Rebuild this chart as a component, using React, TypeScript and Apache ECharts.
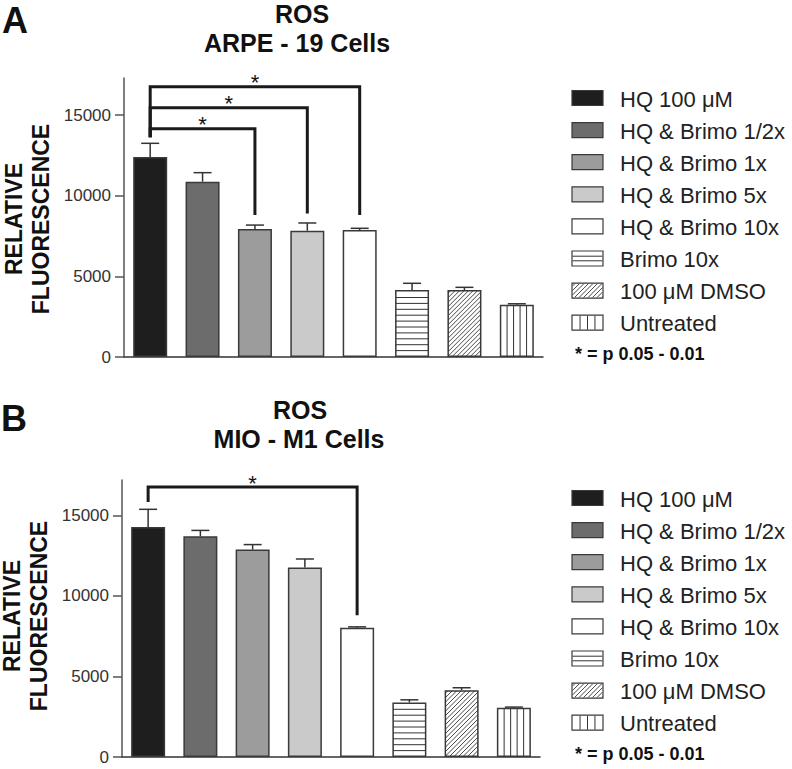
import React, { useEffect, useRef } from "react";
import * as echarts from "echarts";

// ---------- data ----------
const categories = [
  "HQ 100 μM",
  "HQ & Brimo 1/2x",
  "HQ & Brimo 1x",
  "HQ & Brimo 5x",
  "HQ & Brimo 10x",
  "Brimo 10x",
  "100 μM DMSO",
  "Untreated",
];
const arpeMeans = [12400, 10870, 7930, 7830, 7870, 4150, 4150, 3240];
const arpeErrors = [850, 560, 250, 480, 110, 420, 170, 60];
const mioMeans = [14280, 13700, 12880, 11760, 8020, 3390, 4150, 3060];
const mioErrors = [1100, 370, 310, 535, 60, 160, 150, 40];
// [fromIndex, toIndex, bracketY, leftBottomY, rightBottomY]
const arpeBrackets = [
  [0, 4, 16750, 13620, 8800],
  [0, 3, 15450, 13620, 8900],
  [0, 2, 14150, 13620, 8800],
];
const mioBrackets = [[0, 4, 16760, 15830, 8800]];
const yTickValues = [0, 5000, 10000, 15000];
const titlesA = ["ROS", "ARPE - 19 Cells"];
const titlesB = ["ROS", "MIO - M1 Cells"];
const yAxisTitle = "RELATIVE\nFLUORESCENCE";
const sigNote = "* = p 0.05 - 0.01";

// ---------- styles ----------
const FONT = "'Liberation Sans', Arial, Helvetica, sans-serif";
const fills = ["#1e1e1e", "#6c6c6c", "#9c9c9c", "#cacaca", "#ffffff", "#ffffff", "#ffffff", "#ffffff"];
const patterns = ["", "", "", "", "", "h", "d", "v"];
const BORDER = "#3a3a3a";
const HALF_BAR = 17;

function patternLines(kind: string, x0: number, x1: number, yT: number, yB: number, opts: any) {
  const out: any[] = [];
  const style = { stroke: "#333", lineWidth: 1 };
  if (kind === "h") {
    if (opts.legend) {
      for (let k = 1; k < 3; k++) {
        const y = yT + (k * (yB - yT)) / 3;
        out.push({ type: "line", shape: { x1: x0, y1: y, x2: x1, y2: y }, style });
      }
    } else {
      for (let y = yB - 5.9; y > yT + 1.5; y -= 5.9) {
        out.push({ type: "line", shape: { x1: x0, y1: y, x2: x1, y2: y }, style });
      }
    }
  } else if (kind === "v") {
    const n = opts.legend ? 4 : 5;
    for (let k = 1; k < n; k++) {
      const x = x0 + (k * (x1 - x0)) / n;
      out.push({ type: "line", shape: { x1: x, y1: yT, x2: x, y2: yB }, style });
    }
  } else if (kind === "d") {
    const s = 4.5;
    const h = yB - yT;
    for (let c = x0 - h + s / 2; c < x1; c += s) {
      const t0 = Math.max(0, x0 - c);
      const t1 = Math.min(h, x1 - c);
      if (t1 > t0) {
        out.push({
          type: "line",
          shape: { x1: c + t0, y1: yB - t0, x2: c + t1, y2: yB - t1 },
          style: { stroke: "#333", lineWidth: 0.9 },
        });
      }
    }
  }
  return out;
}

function barSeries(means: number[], idx: number) {
  return {
    type: "bar",
    xAxisIndex: idx,
    yAxisIndex: idx,
    barWidth: HALF_BAR * 2,
    z: 2,
    data: means.map((v, i) => ({
      value: v,
      itemStyle: { color: fills[i], borderColor: BORDER, borderWidth: 1.5 },
    })),
  };
}

function patternSeries(means: number[], idx: number) {
  return {
    type: "custom",
    xAxisIndex: idx,
    yAxisIndex: idx,
    z: 3,
    silent: true,
    data: means.map((v, i) => [i, v]),
    renderItem: (params: any, api: any) => {
      const i = api.value(0);
      const v = api.value(1);
      const top = api.coord([i, v]);
      const bot = api.coord([i, 0]);
      const children = patternLines(
        patterns[i],
        top[0] - HALF_BAR + 0.75,
        top[0] + HALF_BAR - 0.75,
        top[1] + 0.75,
        bot[1] - 0.5,
        {}
      );
      return { type: "group", children };
    },
  };
}

function errorSeries(means: number[], errs: number[], idx: number) {
  return {
    type: "custom",
    xAxisIndex: idx,
    yAxisIndex: idx,
    z: 4,
    silent: true,
    data: means.map((v, i) => [i, v, errs[i]]),
    renderItem: (params: any, api: any) => {
      const i = api.value(0);
      const m = api.value(1);
      const e = api.value(2);
      const base = api.coord([i, m]);
      const top = api.coord([i, m + e]);
      const style = { stroke: "#333", lineWidth: 1.5 };
      return {
        type: "group",
        children: [
          { type: "line", shape: { x1: base[0], y1: base[1], x2: top[0], y2: top[1] }, style },
          { type: "line", shape: { x1: top[0] - 9, y1: top[1], x2: top[0] + 9, y2: top[1] }, style },
        ],
      };
    },
  };
}

function bracketSeries(brackets: number[][], idx: number) {
  return {
    type: "custom",
    xAxisIndex: idx,
    yAxisIndex: idx,
    z: 5,
    silent: true,
    clip: false,
    data: brackets,
    renderItem: (params: any, api: any) => {
      const a = api.value(0);
      const b = api.value(1);
      const y = api.value(2);
      const lb = api.value(3);
      const rb = api.value(4);
      const p1 = api.coord([a, lb]);
      const p2 = api.coord([a, y]);
      const p3 = api.coord([b, y]);
      const p4 = api.coord([b, rb]);
      return {
        type: "group",
        children: [
          {
            type: "polyline",
            shape: { points: [p1, p2, p3, p4] },
            style: { stroke: "#1a1a1a", lineWidth: 3, fill: null, lineJoin: "miter" },
          },
          {
            type: "text",
            x: (p2[0] + p3[0]) / 2,
            y: p2[1] - 4,
            style: {
              text: "*",
              fontSize: 22,
              fontFamily: FONT,
              fill: "#111",
              align: "center",
              verticalAlign: "middle",
              textAlign: "center",
              textVerticalAlign: "middle",
            },
          },
        ],
      };
    },
  };
}

function textEl(text: string, x: number, y: number, size: number, bold: boolean, align = "center", extra: any = {}) {
  return {
    type: "text",
    x,
    y,
    silent: true,
    ...extra,
    style: {
      text,
      fontSize: size,
      fontFamily: FONT,
      fontWeight: bold ? "bold" : "normal",
      fill: "#111",
      align,
      verticalAlign: "middle",
      textAlign: align,
      textVerticalAlign: "middle",
      ...(extra.style || {}),
    },
  };
}

function legendEls(top: number) {
  const els: any[] = [];
  const step = 32.1;
  categories.forEach((name, i) => {
    const cy = top + i * step;
    const x0 = 572, x1 = 603, yT = cy - 7.5, yB = cy + 7.5;
    els.push({
      type: "rect",
      silent: true,
      shape: { x: x0, y: yT, width: x1 - x0, height: yB - yT },
      style: { fill: fills[i], stroke: BORDER, lineWidth: 1.2 },
    });
    patternLines(patterns[i], x0 + 0.6, x1 - 0.6, yT + 0.6, yB - 0.6, { legend: true }).forEach((l) =>
      els.push({ ...l, silent: true })
    );
    els.push(textEl(name, 620, cy + 1, 22, false, "left", { style: { fill: "#222" } }));
  });
  els.push(textEl(sigNote, 575, top + 8 * step - 0.5, 18, true, "left"));
  return els;
}

function buildOption() {
  const yAxisBase = (max: number, idx: number) => ({
    type: "value",
    gridIndex: idx,
    min: 0,
    max,
    interval: 5000,
    axisLine: { show: true, lineStyle: { color: "#555", width: 1.5 } },
    axisTick: { show: true, length: 9, lineStyle: { color: "#555", width: 1.5 }, customValues: yTickValues },
    axisLabel: {
      margin: 13,
      fontSize: 17,
      color: "#333",
      fontFamily: FONT,
      customValues: yTickValues,
      formatter: (v: number) => String(v),
    },
    splitLine: { show: false },
  });
  const xAxisBase = (idx: number) => ({
    type: "category",
    gridIndex: idx,
    data: categories,
    axisLine: { show: true, lineStyle: { color: "#333", width: 1.5 } },
    axisTick: { show: false },
    axisLabel: { show: false },
  });
  return {
    animation: false,
    backgroundColor: "#ffffff",
    grid: [
      { left: 124, top: 78, width: 419, height: 279 },
      { left: 122, top: 480, width: 418, height: 277 },
    ],
    xAxis: [xAxisBase(0), xAxisBase(1)],
    yAxis: [yAxisBase(17300, 0), yAxisBase(17200, 1)],
    series: [
      barSeries(arpeMeans, 0),
      barSeries(mioMeans, 1),
      patternSeries(arpeMeans, 0),
      patternSeries(mioMeans, 1),
      errorSeries(arpeMeans, arpeErrors, 0),
      errorSeries(mioMeans, mioErrors, 1),
      bracketSeries(arpeBrackets, 0),
      bracketSeries(mioBrackets, 1),
    ],
    graphic: [
      textEl("A", 2, 20, 36, true, "left"),
      textEl("B", 1, 418, 36, true, "left"),
      textEl(titlesA[0], 302, 14, 25, true),
      textEl(titlesA[1], 297, 43, 25, true),
      textEl(titlesB[0], 300, 410, 25, true),
      textEl(titlesB[1], 299, 439, 25, true),
      textEl(yAxisTitle, 27, 219, 23, true, "center", { rotation: Math.PI / 2, style: { lineHeight: 27 } }),
      textEl(yAxisTitle, 25, 616, 23, true, "center", { rotation: Math.PI / 2, style: { lineHeight: 27 } }),
      ...legendEls(98),
      ...legendEls(498),
    ],
  };
}

export default function App() {
  const ref = useRef<HTMLDivElement>(null);
  useEffect(() => {
    if (!ref.current) return;
    const chart = echarts.init(ref.current, undefined, { renderer: "svg" });
    chart.setOption(buildOption() as any);
    return () => chart.dispose();
  }, []);
  return <div ref={ref} style={{ position: "absolute", left: 0, top: 0, width: 792, height: 769 }} />;
}
